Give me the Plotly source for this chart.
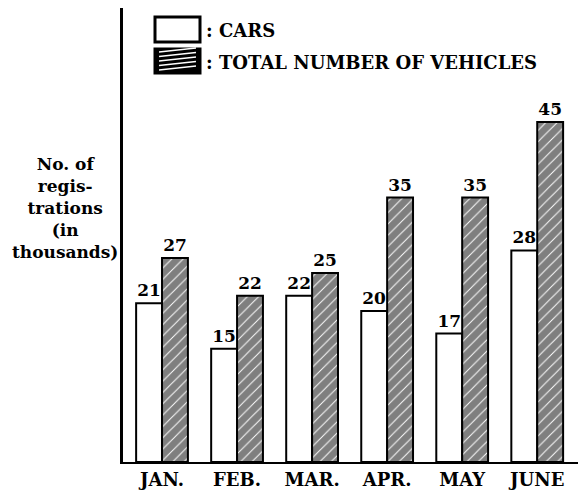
import plotly.graph_objects as go

months = ["JAN.", "FEB.", "MAR.", "APR.", "MAY", "JUNE"]
cars = [21, 15, 22, 20, 17, 28]
total_vehicles = [27, 22, 25, 35, 35, 45]

OFF = 8  # default page body margin
W, H = 586 - OFF, 498 - OFF
L, R, T, B = 123 - OFF, 0, 0, 36
PW, PH = W - L - R, H - T - B

def px(x):  # page pixel x -> paper
    return (x - OFF - L) / PW

def py(y):  # page pixel y (from top) -> paper
    return (H - B - (y - OFF)) / PH

FONT = "DejaVu Serif"

fig = go.Figure()
fig.add_trace(go.Bar(
    x=months, y=cars, name="CARS",
    marker=dict(color="white", line=dict(color="black", width=2)),
    text=[str(v) for v in cars], textposition="outside",
    textfont=dict(family=FONT, size=17, color="black", weight="bold"),
    cliponaxis=False,
))
fig.add_trace(go.Bar(
    x=months, y=total_vehicles, name="TOTAL NUMBER OF VEHICLES",
    marker=dict(color="white", line=dict(color="black", width=2),
                pattern=dict(shape="/", fgcolor="black", bgcolor="white",
                             size=8, solidity=0.88, fillmode="overlay")),
    text=[str(v) for v in total_vehicles], textposition="outside",
    textfont=dict(family=FONT, size=17, color="black", weight="bold"),
    cliponaxis=False,
))

shapes = [
    dict(type="rect", xref="paper", yref="paper",
         x0=px(155), x1=px(200), y0=py(42), y1=py(17),
         line=dict(color="black", width=3), fillcolor="white"),
    dict(type="rect", xref="paper", yref="paper",
         x0=px(155), x1=px(200), y0=py(73), y1=py(49),
         line=dict(color="black", width=3), fillcolor="black"),
]
for k in range(5):
    yb = 70 - k * 4.5
    shapes.append(dict(type="line", xref="paper", yref="paper",
                       x0=px(159), x1=px(196), y0=py(yb), y1=py(yb - 4),
                       line=dict(color="white", width=1.5)))

annotations = [
    dict(xref="paper", yref="paper", x=px(204), y=py(30), xanchor="left", yanchor="middle",
         text=": CARS", showarrow=False,
         font=dict(family=FONT, size=18, color="black", weight="bold")),
    dict(xref="paper", yref="paper", x=px(204), y=py(62), xanchor="left", yanchor="middle",
         text=": TOTAL NUMBER OF VEHICLES", showarrow=False,
         font=dict(family=FONT, size=18, color="black", weight="bold")),
    dict(xref="paper", yref="paper", x=px(65), y=py(208), xanchor="center", yanchor="middle",
         text="No. of<br>regis-<br>trations<br>(in<br>thousands)", showarrow=False,
         font=dict(family=FONT, size=17, color="black", weight="bold")),
]

fig.update_layout(
    width=W, height=H,
    margin=dict(l=L, r=R, t=T, b=B, pad=0),
    paper_bgcolor="white", plot_bgcolor="white",
    barmode="group", bargap=0.31, bargroupgap=0,
    showlegend=False,
    shapes=shapes, annotations=annotations,
    font=dict(family=FONT, color="black"),
    xaxis=dict(range=[-0.52, 5.65], showgrid=False, showline=True, linecolor="black",
               linewidth=2, ticks="", tickfont=dict(family=FONT, size=18, color="black", weight="bold"),
               zeroline=False),
    yaxis=dict(range=[0, 454 / (204 / 27)], showgrid=False, showline=True, linecolor="black",
               linewidth=3, showticklabels=False, ticks="", zeroline=False),
)

fig.write_html("out.html")
